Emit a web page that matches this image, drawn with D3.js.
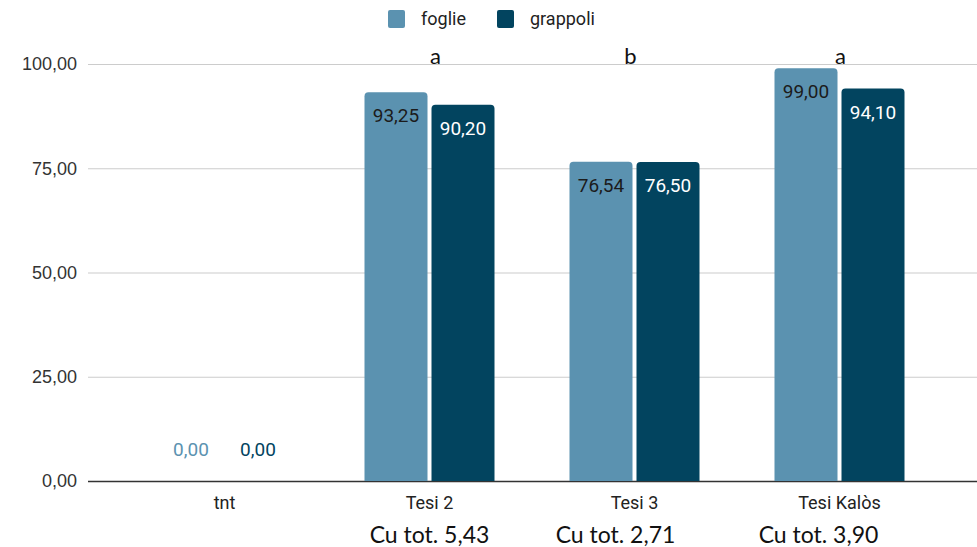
<!DOCTYPE html>
<html>
<head>
<meta charset="utf-8">
<script src="https://cdn.jsdelivr.net/npm/d3@7"></script>
<style>
  body { margin: 0; background: #fff; }
  text { font-family: Roboto, "Noto Sans", sans-serif; }
</style>
</head>
<body>
<div id="chart"></div>
<script>
var categories = ["tnt", "Tesi 2", "Tesi 3", "Tesi Kalòs"];
var seriesNames = ["foglie", "grappoli"];
var foglie = [0, 93.25, 76.54, 99.00];
var grappoli = [0, 90.20, 76.50, 94.10];
var letters = ["", "a", "b", "a"];
var cuLabels = ["", "Cu tot. 5,43", "Cu tot. 2,71", "Cu tot. 3,90"];
var yTicks = [0, 25, 50, 75, 100];

var colors = ["#5b92b0", "#02445f"];
var labelColors = ["#1b1b1b", "#ffffff"];
var zeroColors = ["#5b92b0", "#02445f"];

var svgWidth = 977;
var svgHeight = 547;

var svg = d3.select("#chart")
  .append("svg")
  .attr("width", svgWidth)
  .attr("height", svgHeight);

var x = d3.scaleBand()
  .domain(categories)
  .range([122, 942]);

var y = d3.scaleLinear()
  .domain([0, 100])
  .range([481, 64]);

var fmt = function(v) { return d3.format(".2f")(v).replace(".", ","); };

// gridlines
svg.append("g").selectAll("line")
  .data(yTicks)
  .enter()
  .append("line")
  .attr("x1", 88)
  .attr("x2", 977)
  .attr("y1", d => y(d) + 0.5)
  .attr("y2", d => y(d) + 0.5)
  .attr("stroke", d => d === 0 ? "#333" : "#cccccc")
  .attr("stroke-width", d => d === 0 ? 1.5 : 1.2);

// y tick labels
svg.append("g").selectAll("text")
  .data(yTicks)
  .enter()
  .append("text")
  .attr("x", 77)
  .attr("y", d => y(d))
  .attr("dy", "0.35em")
  .attr("text-anchor", "end")
  .attr("font-size", 18)
  .attr("fill", "#333")
  .style("font-family", "'Liberation Sans', Arial, sans-serif")
  .text(d => fmt(d));

var barW = 63, gap = 4;
var series = [foglie, grappoli];

function topRounded(x0, y0, w, h, r) {
  if (h <= 0) return "";
  r = Math.min(r, h, w / 2);
  return "M" + x0 + "," + (y0 + h) +
    "V" + (y0 + r) +
    "Q" + x0 + "," + y0 + " " + (x0 + r) + "," + y0 +
    "H" + (x0 + w - r) +
    "Q" + (x0 + w) + "," + y0 + " " + (x0 + w) + "," + (y0 + r) +
    "V" + (y0 + h) + "Z";
}

series.forEach(function(vals, si) {
  var g = svg.append("g");
  var offset = si === 0 ? -gap / 2 - barW : gap / 2;
  var rows = categories.map((c, i) => ({ cat: c, v: vals[i] }));

  g.selectAll("path")
    .data(rows)
    .enter()
    .append("path")
    .attr("d", d => {
      var cx = x(d.cat) + x.bandwidth() / 2;
      return topRounded(cx + offset, y(d.v), barW, y(0) - y(d.v), 4);
    })
    .attr("fill", colors[si]);

  g.selectAll("text")
    .data(rows)
    .enter()
    .append("text")
    .attr("x", d => x(d.cat) + x.bandwidth() / 2 + offset + barW / 2)
    .attr("y", d => d.v === 0 ? y(0) - 25 : y(d.v) + 30)
    .attr("text-anchor", "middle")
    .attr("font-size", 19)
    .attr("fill", d => d.v === 0 ? zeroColors[si] : labelColors[si])
    .text(d => fmt(d.v));
});

// significance letters
svg.append("g").selectAll("text")
  .data(categories)
  .enter()
  .append("text")
  .attr("x", (d, i) => x(d) + x.bandwidth() / 2 + [0, 6, -4, 1][i])
  .attr("y", 64)
  .attr("text-anchor", "middle")
  .attr("font-size", 22)
  .attr("fill", "#111")
  .style("font-family", "Lato, 'Open Sans', sans-serif")
  .text((d, i) => letters[i]);

// category labels
svg.append("g").selectAll("text")
  .data(categories)
  .enter()
  .append("text")
  .attr("x", d => x(d) + x.bandwidth() / 2)
  .attr("y", 509)
  .attr("text-anchor", "middle")
  .attr("font-size", 18)
  .attr("fill", "#222")
  .text(d => d);

// Cu labels
svg.append("g").selectAll("text")
  .data(categories)
  .enter()
  .append("text")
  .attr("x", (d, i) => x(d) + x.bandwidth() / 2 + [0, 0, -19, -21][i])
  .attr("y", 543)
  .attr("text-anchor", "middle")
  .attr("font-size", 23)
  .attr("fill", "#111")
  .style("font-family", "Lato, 'Open Sans', sans-serif")
  .text((d, i) => cuLabels[i]);

// legend
var legend = svg.append("g");
var legendX = [388, 497];
seriesNames.forEach(function(name, i) {
  legend.append("rect")
    .attr("x", legendX[i])
    .attr("y", 10)
    .attr("width", 17)
    .attr("height", 18)
    .attr("rx", 2)
    .attr("fill", colors[i]);
  legend.append("text")
    .attr("x", legendX[i] + 33)
    .attr("y", 19)
    .attr("dy", "0.35em")
    .attr("font-size", 18)
    .attr("fill", "#222")
    .text(name);
});
</script>
</body>
</html>
